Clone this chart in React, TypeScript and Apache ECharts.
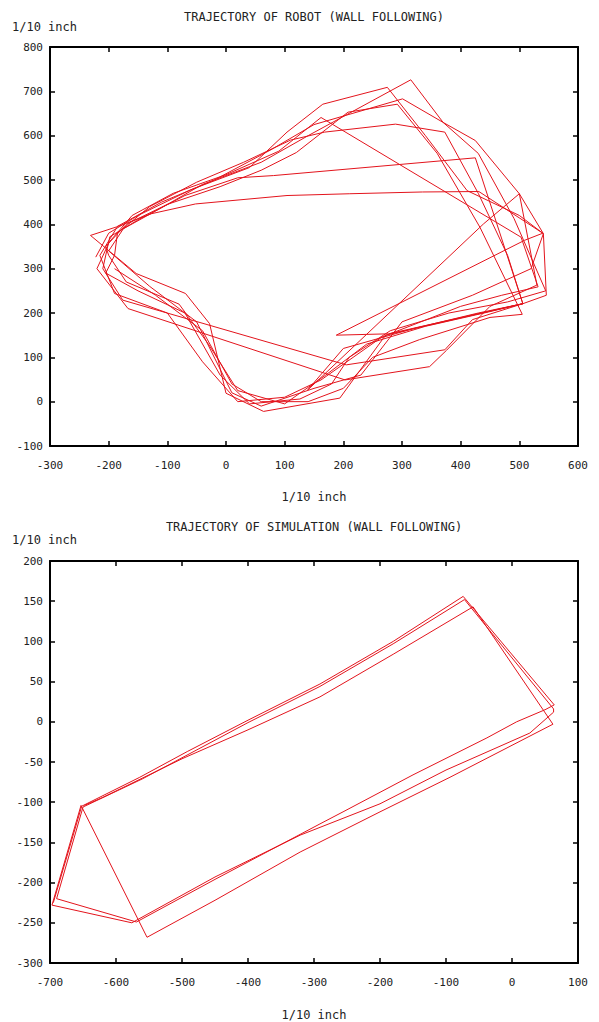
import React, { useEffect, useRef } from "react";
import * as echarts from "echarts";

// ---------- Robot trajectory (1/10 inch), one array per lap ----------
const robotLap1 = [[-222,326],[-200,380],[-150,420],[-60,478],[40,528],[104,608],[165,671],[275,709],[340,600],[411,476],[500,420],[541,379],[546,240],[506,221],[420,195],[272,150],[194,8],[64,-22],[0,19],[-28,176],[-69,244],[-153,289]];
const robotLap2 = [[-231,375],[-187,394],[-110,450],[-20,500],[75,567],[150,625],[301,683],[370,630],[425,589],[500,469],[530,263],[450,215],[376,116],[347,79],[203,49],[-167,210],[-220,300]];
const robotLap3 = [[-199,360],[-160,420],[-90,470],[0,512],[90,565],[162,641],[503,371],[532,259],[470,240],[400,215],[266,146],[162,49],[100,10],[20,0],[-40,90],[-100,200],[-190,244]];
const robotLap4 = [[-215,330],[-185,395],[-127,424],[-52,446],[104,465],[211,469],[335,473],[431,474],[540,380],[509,364],[188,150],[277,153],[506,221],[420,185],[373,117],[205,83],[-176,229]];
const robotLap5 = [[-210,300],[-198,372],[-150,410],[-70,465],[20,505],[81,510],[425,550],[506,221],[430,200],[320,165],[200,120],[139,26],[439,401],[500,469],[541,379],[520,300],[420,240],[300,180],[230,60],[150,30],[60,-10],[10,20],[-50,180],[-130,260]];
const robotLap6 = [[-200,340],[-175,390],[-120,430],[-40,490],[60,540],[140,600],[315,726],[370,630],[430,560],[491,413],[545,250],[480,225],[380,200],[280,160],[210,100],[180,40],[126,6],[40,-5],[-10,60],[-70,200],[-150,250],[-205,290]];
const robotLap7 = [[-190,330],[-185,380],[-130,440],[-50,495],[30,540],[110,590],[168,608],[289,626],[373,608],[430,470],[480,330],[506,221],[440,200],[340,170],[240,130],[170,60],[100,-5],[20,25],[-30,130],[-80,220],[-170,270],[-200,330]];
const robotLap8 = [[-205,350],[-170,400],[-100,445],[-10,485],[60,522],[120,562],[208,653],[292,671],[360,560],[433,393],[505,197],[450,190],[330,140],[250,100],[200,30],[140,0],[60,0],[10,40],[-40,160],[-120,240],[-190,300]];

// ---------- Simulation trajectory (1/10 inch) ----------
const simLeftA = [[-695,-225],[-652,-105]];
const simUpperA = [[-564,-69],[-492,-37],[-400,2],[-291,47],[-180,100],[-74,156]];
const simRightA = [[64,21]];
const simLowerA = [[50,15],[7,0],[-38,-20],[-150,-66],[-256,-112],[-291,-127],[-450,-196],[-569,-249]];
const simLeftB = [[-690,-220],[-650,-106]];
const simUpperB = [[-560,-71],[-400,-1],[-291,44],[-180,97],[-72,152]];
const simRightB = [[63,16],[63,12]];
const simLowerB = [[27,-14],[-100,-60],[-200,-102],[-321,-141],[-450,-193],[-576,-250]];
const simLeftC = [[-697,-228],[-653,-104],[-553,-268]];
const simLowerC = [[-450,-222],[-321,-162],[-200,-112],[-94,-69],[62,-3]];
const simUpperC = [[-59,143],[-180,84],[-291,31],[-400,-10],[-500,-46],[-620,-94],[-648,-104]];

// ---------- Axis ranges ----------
const robotX = { min: -300, max: 600, interval: 100 };
const robotY = { min: -100, max: 800, interval: 100 };
const simX = { min: -700, max: 100, interval: 100 };
const simY = { min: -300, max: 200, interval: 50 };

const titleRobot = "TRAJECTORY OF ROBOT (WALL FOLLOWING)";
const titleSim = "TRAJECTORY OF SIMULATION (WALL FOLLOWING)";
const unit = "1/10 inch";

const FONT = "'DejaVu Sans Mono', monospace";
const RED = "#e3141c";

export default function App() {
  const ref = useRef<HTMLDivElement>(null);
  useEffect(() => {
    if (!ref.current) return;
    const chart = echarts.init(ref.current, null, { renderer: "svg" });
    const robotPath = [...robotLap1, ...robotLap2, ...robotLap3, ...robotLap4, ...robotLap5, ...robotLap6, ...robotLap7, ...robotLap8];
    const simPath = [
      ...simLeftA, ...simUpperA, ...simRightA, ...simLowerA,
      ...simLeftB, ...simUpperB, ...simRightB, ...simLowerB,
      ...simLeftC, ...simLowerC, ...simUpperC,
    ];
    const line = { show: true, onZero: false, lineStyle: { color: "#000", width: 2 } };
    const tick = { show: true, inside: true, length: 5, lineStyle: { color: "#000", width: 1.5 } };
    const lbl = { color: "#222", fontFamily: FONT, fontSize: 11 };
    const mkX = (grid: number, r: any) => [
      { gridIndex: grid, type: "value", position: "bottom", ...r, axisLine: line, axisTick: tick, splitLine: { show: false }, axisLabel: { ...lbl, margin: 14 } },
      { gridIndex: grid, type: "value", position: "top", ...r, axisLine: line, axisTick: tick, splitLine: { show: false }, axisLabel: { show: false } },
    ];
    const mkY = (grid: number, r: any) => [
      { gridIndex: grid, type: "value", position: "left", ...r, axisLine: line, axisTick: tick, splitLine: { show: false }, axisLabel: { ...lbl, margin: 7 } },
      { gridIndex: grid, type: "value", position: "right", ...r, axisLine: line, axisTick: tick, splitLine: { show: false }, axisLabel: { show: false } },
    ];
    const txt = (text: string, x: number, y: number, align: string) => ({
      type: "text",
      x, y,
      style: { text, fill: "#222", fontFamily: FONT, fontSize: 12, align, verticalAlign: "middle" },
    });
    chart.setOption({
      animation: false,
      backgroundColor: "#fff",
      grid: [
        { left: 50, top: 47, width: 528, height: 399 },
        { left: 50, top: 561, width: 528, height: 402 },
      ],
      xAxis: [...mkX(0, robotX), ...mkX(1, simX)],
      yAxis: [...mkY(0, robotY), ...mkY(1, simY)],
      series: [
        { type: "line", xAxisIndex: 0, yAxisIndex: 0, data: robotPath, showSymbol: false, symbol: "none", lineStyle: { color: RED, width: 1 } },
        { type: "line", xAxisIndex: 2, yAxisIndex: 2, data: simPath, showSymbol: false, symbol: "none", lineStyle: { color: RED, width: 1 } },
      ],
      graphic: [
        txt(titleRobot, 314, 17, "center"),
        txt(unit, 12, 27, "left"),
        txt(unit, 314, 497, "center"),
        txt(titleSim, 314, 527, "center"),
        txt(unit, 12, 540, "left"),
        txt(unit, 314, 1015, "center"),
      ],
    });
    return () => chart.dispose();
  }, []);
  return <div ref={ref} style={{ position: "absolute", left: 0, top: 0, width: 599, height: 1022, background: "#fff" }} />;
}
